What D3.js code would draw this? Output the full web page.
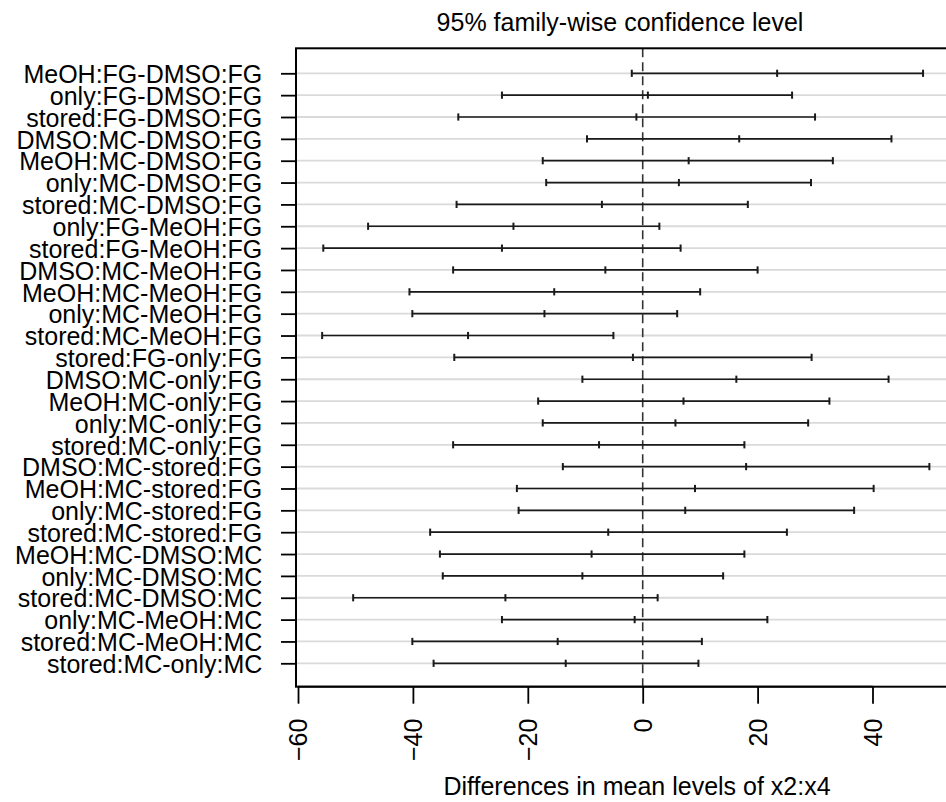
<!DOCTYPE html>
<html>
<head>
<meta charset="utf-8">
<script src="https://cdn.jsdelivr.net/npm/d3@7/dist/d3.min.js"></script>
<style>
  html, body { margin: 0; padding: 0; background: #fff; }
  svg { display: block; }
  text { font-family: "Liberation Sans", Arial, sans-serif; fill: #000; }
</style>
</head>
<body>
<svg id="chart" width="946" height="802"></svg>
<script>
// Tukey HSD pairwise comparisons of x2:x4 group means
const comparisons = [
  "MeOH:FG-DMSO:FG", "only:FG-DMSO:FG", "stored:FG-DMSO:FG", "DMSO:MC-DMSO:FG",
  "MeOH:MC-DMSO:FG", "only:MC-DMSO:FG", "stored:MC-DMSO:FG", "only:FG-MeOH:FG",
  "stored:FG-MeOH:FG", "DMSO:MC-MeOH:FG", "MeOH:MC-MeOH:FG", "only:MC-MeOH:FG",
  "stored:MC-MeOH:FG", "stored:FG-only:FG", "DMSO:MC-only:FG", "MeOH:MC-only:FG",
  "only:MC-only:FG", "stored:MC-only:FG", "DMSO:MC-stored:FG", "MeOH:MC-stored:FG",
  "only:MC-stored:FG", "stored:MC-stored:FG", "MeOH:MC-DMSO:MC", "only:MC-DMSO:MC",
  "stored:MC-DMSO:MC", "only:MC-MeOH:MC", "stored:MC-MeOH:MC", "stored:MC-only:MC"
];
const diff = [
  23.4, 0.9, -1.1, 16.8, 8.0, 6.3, -7.1, -22.5,
  -24.5, -6.5, -15.4, -17.1, -30.4, -1.7, 16.3, 7.1,
  5.7, -7.6, 18.0, 9.1, 7.4, -6.0, -8.9, -10.5,
  -23.9, -1.4, -14.8, -13.4
];
const lwr = [
  -1.9, -24.5, -32.1, -9.7, -17.4, -16.8, -32.4, -47.8,
  -55.6, -33.0, -40.6, -40.1, -55.8, -32.8, -10.5, -18.2,
  -17.4, -33.0, -13.9, -21.9, -21.6, -37.0, -35.3, -34.8,
  -50.4, -24.5, -40.1, -36.4
];
const upr = [
  48.8, 26.0, 30.0, 43.3, 33.1, 29.3, 18.3, 2.9,
  6.6, 20.0, 10.0, 6.0, -5.1, 29.4, 42.8, 32.5,
  28.8, 17.7, 49.9, 40.2, 36.8, 25.1, 17.7, 14.0,
  2.6, 21.7, 10.3, 9.7
];
const xTicks = [-60, -40, -20, 0, 20, 40];
const titleText = "95% family-wise confidence level";
const xLabelText = "Differences in mean levels of x2:x4";

const rows = comparisons.map((name, i) => ({ name, diff: diff[i], lwr: lwr[i], upr: upr[i] }));

const svg = d3.select("#chart");
const plot = { left: 296, right: 953.5, top: 48.3, bottom: 686.7 };

const x = d3.scaleLinear().domain([-60.35, 54.1]).range([plot.left, plot.right]);
const y = d3.scalePoint().domain(comparisons).range([73.3, 663.3]);

svg.append("rect").attr("width", 946).attr("height", 802).attr("fill", "#fff");

// horizontal reference lines, one per comparison
svg.append("g").selectAll("line").data(rows).join("line")
  .attr("x1", plot.left).attr("x2", plot.right)
  .attr("y1", d => y(d.name)).attr("y2", d => y(d.name))
  .attr("stroke", "#dadada").attr("stroke-width", 1.8);

// zero line
svg.append("line")
  .attr("x1", x(0)).attr("x2", x(0))
  .attr("y1", plot.top).attr("y2", plot.bottom)
  .attr("stroke", "#333").attr("stroke-width", 1.6)
  .attr("stroke-dasharray", "9,5");

// confidence intervals
const ci = svg.append("g").attr("stroke", "#1a1a1a").attr("stroke-width", 1.7);
ci.selectAll("line.seg").data(rows).join("line").attr("class", "seg")
  .attr("x1", d => x(d.lwr)).attr("x2", d => x(d.upr))
  .attr("y1", d => y(d.name)).attr("y2", d => y(d.name));
const marks = rows.flatMap(d => [d.lwr, d.diff, d.upr].map(v => ({ v, name: d.name })));
ci.selectAll("line.tick").data(marks).join("line").attr("class", "tick")
  .attr("x1", d => x(d.v)).attr("x2", d => x(d.v))
  .attr("y1", d => y(d.name) - 3.6).attr("y2", d => y(d.name) + 3.6)
  .attr("stroke-width", 2);

// frame
svg.append("rect")
  .attr("x", plot.left).attr("y", plot.top)
  .attr("width", plot.right - plot.left).attr("height", plot.bottom - plot.top)
  .attr("fill", "none").attr("stroke", "#000").attr("stroke-width", 2);

// y axis
const yAxis = svg.append("g")
  .attr("transform", `translate(${plot.left},0)`)
  .call(d3.axisLeft(y).tickSize(15).tickPadding(18.7));
yAxis.select(".domain").remove();
yAxis.selectAll(".tick line").attr("stroke", "#000").attr("stroke-width", 1.8);
yAxis.selectAll(".tick text")
  .attr("font-size", 25).attr("font-family", "Liberation Sans, Arial, sans-serif")
  .attr("dy", "0.37em").attr("fill", "#000");

// x axis with vertical tick labels
const xAxis = svg.append("g")
  .attr("transform", `translate(0,${plot.bottom})`)
  .call(d3.axisBottom(x).tickValues(xTicks).tickSize(17).tickFormat(d3.format("d")));
xAxis.select(".domain")
  .attr("d", `M${x(xTicks[0])},0H${x(xTicks[xTicks.length - 1])}`)
  .attr("stroke", "#000").attr("stroke-width", 1.8);
xAxis.selectAll(".tick line").attr("stroke", "#000").attr("stroke-width", 1.8);
xAxis.selectAll(".tick text")
  .attr("font-size", 25).attr("font-family", "Liberation Sans, Arial, sans-serif")
  .attr("fill", "#000")
  .attr("transform", "rotate(-90)")
  .attr("text-anchor", "end")
  .attr("x", -32).attr("y", 0).attr("dy", "0.35em");

// title and axis label
svg.append("text")
  .attr("x", 620).attr("y", 31)
  .attr("text-anchor", "middle").attr("font-size", 25)
  .text(titleText);
svg.append("text")
  .attr("x", 637).attr("y", 795)
  .attr("text-anchor", "middle").attr("font-size", 25)
  .text(xLabelText);
</script>
</body>
</html>
